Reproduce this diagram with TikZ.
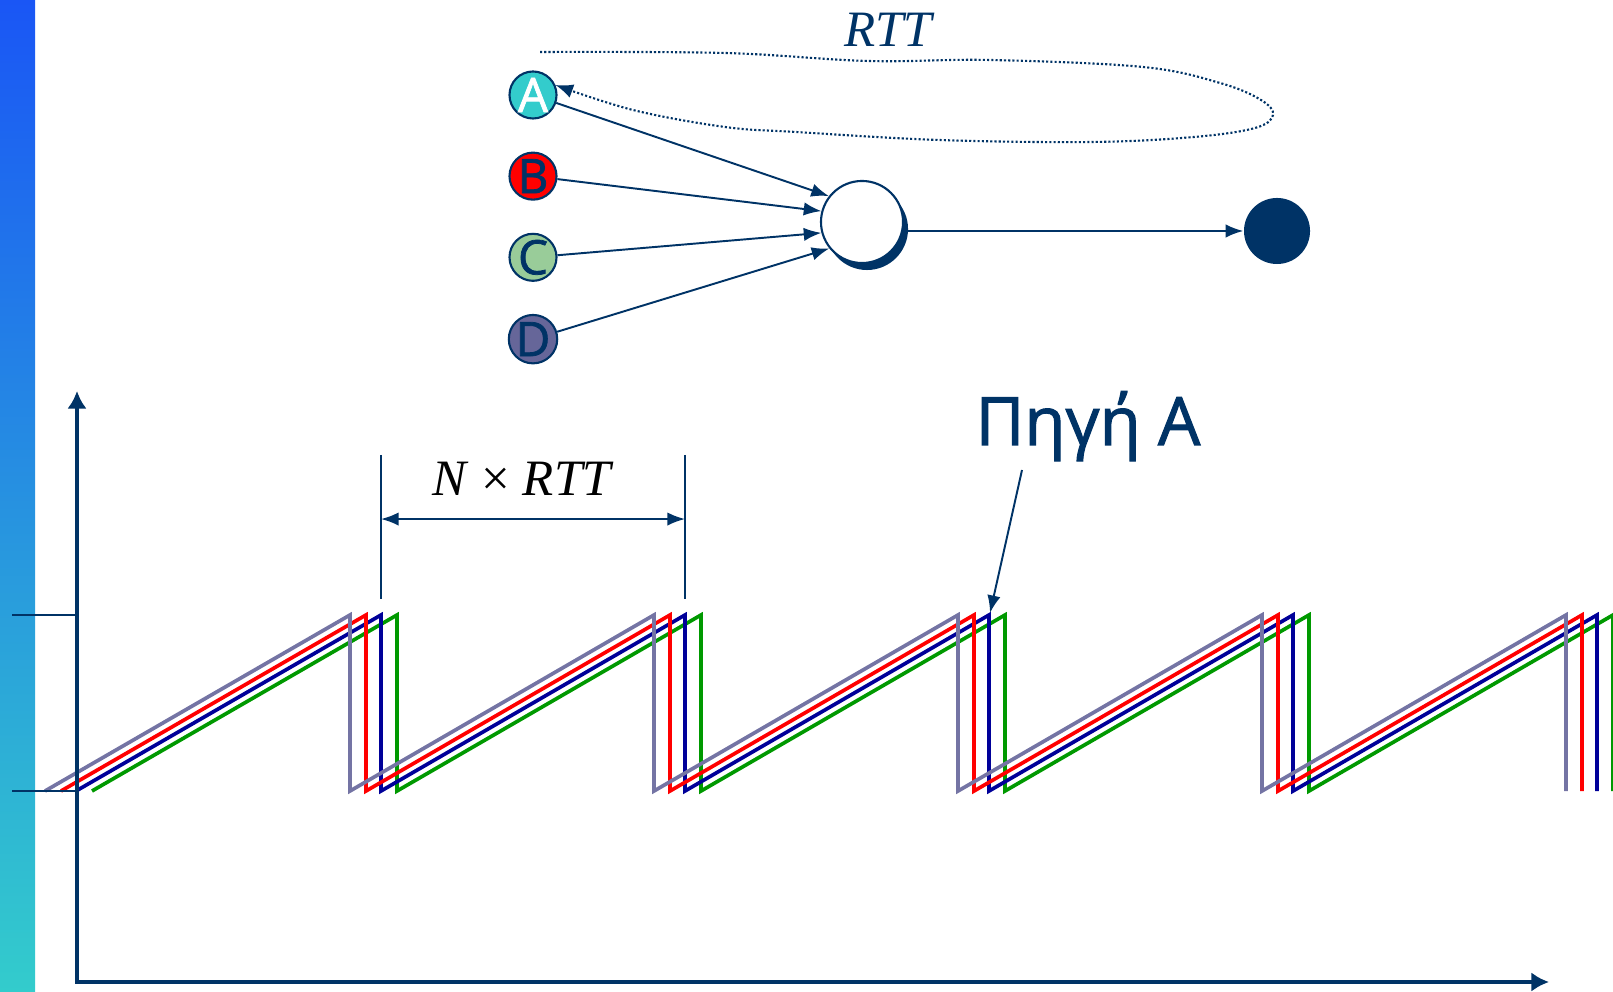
\documentclass[tikz,border=0pt]{standalone}
\usepackage{fontspec}
\setmainfont{Liberation Serif}
\newfontfamily\handfont[UprightFeatures={FakeBold=1.6}]{Open Sans}
\usepackage{xcolor}
\usepackage{tikz}
\usetikzlibrary{arrows.meta, positioning, shadows}

\definecolor{deepblue}{HTML}{003366}
\definecolor{srcA}{HTML}{33CCCC}
\definecolor{srcB}{HTML}{FF0000}
\definecolor{srcC}{HTML}{99CC99}
\definecolor{srcD}{HTML}{666699}
\definecolor{lnP}{HTML}{7474A4}
\definecolor{lnR}{HTML}{FF0000}
\definecolor{lnB}{HTML}{000099}
\definecolor{lnG}{HTML}{009900}
\definecolor{barTop}{HTML}{1A56F5}
\definecolor{barBot}{HTML}{33CCCC}

\begin{document}
\begin{tikzpicture}[
    x=0.01cm, y=-0.01cm,
    src/.style={circle, draw=deepblue, line width=0.6pt, minimum size=0.47cm, inner sep=0pt,
        text=deepblue, font=\handfont\fontsize{13.5}{13.5}\selectfont},
    router/.style={circle, draw=deepblue, line width=0.6pt, fill=white, minimum size=0.82cm,
        drop shadow={shadow xshift=0.05cm, shadow yshift=-0.07cm, fill=deepblue, opacity=1}},
    sink/.style={circle, fill=deepblue, minimum size=0.66cm, inner sep=0pt},
    arrow/.style={-{Latex[length=5pt,width=3.8pt]}, line width=0.55pt, draw=deepblue},
    axis/.style={{Latex[length=5pt,width=5.5pt]}-{Latex[length=5pt,width=5.5pt]}, line width=1pt, draw=deepblue},
    dimline/.style={line width=0.5pt, draw=deepblue},
    rttloop/.style={-{Latex[length=5pt,width=4pt]}, line width=0.6pt, draw=deepblue, dash pattern=on 0.6pt off 0.6pt},
    saw/.style={line width=1.05pt},
    tick/.style={line width=0.45pt, draw=deepblue}
]
    \useasboundingbox (0,0) rectangle (1613,992);
    \shade[top color=barTop, bottom color=barBot] (0,0) rectangle (35,992);

    \node[src, fill=srcA, text=white] (A) at (533,95) {A};
    \node[src, fill=srcB, below=0.32cm of A] (B) {B};
    \node[src, fill=srcC, below=0.32cm of B] (C) {C};
    \node[src, fill=srcD, below=0.32cm of C] (D) {D};
    \node[router] (R) at (862,222) {};
    \node[sink] (S) at (1277,231) {};
    \node[inner sep=0pt, text=deepblue, font=\itshape\fontsize{14.5}{14.5}\selectfont] (rtt) at (888,30) {RTT};

    \draw[arrow] (A) -- (R.142);
    \draw[arrow] (B) -- (R.165);
    \draw[arrow] (C) -- (R.195);
    \draw[arrow] (D) -- (R.219);
    \draw[arrow] (R.east |- S) -- (S);

    \coordinate (lp) at (540,52);
    \draw[rttloop] plot[smooth, tension=0.6] coordinates {(lp) (725,53) (868,61) (990,60) (1143,67)
        (1220,83) (1261,100) (1273,115) (1255,128) (1194,137) (1092,142) (939,140) (796,132)
        (725,127) (633,110) (A.24)};

    \foreach \off/\col in {47/lnG, 31/lnB, 16/lnR, 0/lnP}
        \draw[saw, \col] (45+\off,791) foreach \k in {0,...,4} {-- (350+\off+304*\k,615) -- (350+\off+304*\k,791)};

    \draw[tick] (12,615) -- (77,615);
    \draw[tick] (12,791) -- (77,791);
    \coordinate (O) at (77,982);
    \coordinate (ytop) at (77,391);
    \coordinate (xend) at (1549,982);
    \draw[axis] (ytop) -- (O) -- (xend);

    \coordinate (d1) at (381,455);
    \coordinate (d2) at (685,455);
    \draw[dimline] (d1) -- ++(0,144);
    \draw[dimline] (d2) -- ++(0,144);
    \draw[arrow, {Latex[length=5pt,width=3.8pt]}-{Latex[length=5pt,width=3.8pt]}] ([yshift=-0.64cm]d1) -- ([yshift=-0.64cm]d2);
    \node[inner sep=0pt, font=\fontsize{14.5}{14.5}\selectfont] (nrtt) at (523,479) {\textit{N} × \textit{RTT}};

    \node[anchor=base, inner sep=0pt, text=deepblue, font=\handfont\fontsize{19}{19}\selectfont] (pigi) at (1088,445) {Πηγή A};
    \coordinate (ptr) at (1022,470);
    \coordinate (peak) at (990,613);
    \draw[arrow] (ptr) -- (peak);
\end{tikzpicture}
\end{document}
